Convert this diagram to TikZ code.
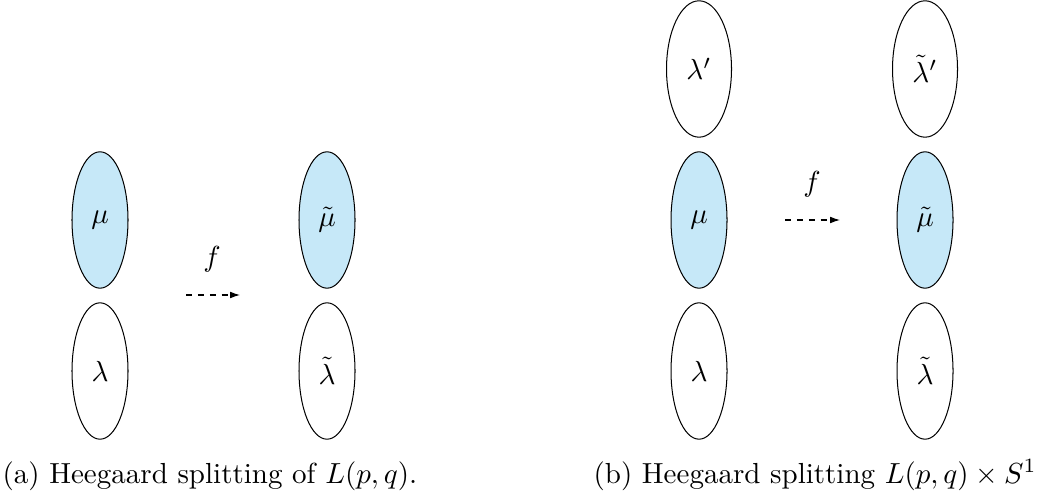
\documentclass[tikz,border=0pt]{standalone}
\usetikzlibrary{shapes.geometric,arrows.meta}
\definecolor{diskblue}{RGB}{198,232,248}
\tikzset{
  disk/.style={ellipse, draw=black, line width=0.35pt, inner sep=0pt, minimum width=19.3pt, minimum height=47pt},
  widedisk/.style={disk, minimum width=22.4pt},
  bluedisk/.style={disk, fill=diskblue},
  maparrow/.style={dash pattern=on 2.2pt off 1.9pt, line width=0.35pt, -{Latex[length=3.4pt,width=2.3pt]}},
  caption/.style={anchor=base west, inner sep=0pt}
}
\begin{document}
\begin{tikzpicture}[x=0.3446pt,y=-0.3446pt]
\useasboundingbox (0,0) rectangle (1038,495);
% panel (a)
\node[bluedisk] (amu) at (100,220) {$\mu$};
\node[disk] (alam) at (100,371) {$\lambda$};
\node[bluedisk] (amut) at (327,220) {$\tilde{\mu}$};
\node[disk] (alamt) at (327,371) {$\tilde{\lambda}$};
\coordinate (as) at (186,295);
\coordinate (ae) at (240,295);
\draw[maparrow] (as) -- (ae);
\node (af) at (212,259) {$f$};
\node[caption] (capa) at (2,483) {(a) Heegaard splitting of $L(p,q)$.};
% panel (b)
\node[widedisk] (blp) at (699,69) {$\lambda'$};
\node[bluedisk] (bmu) at (699,220) {$\mu$};
\node[disk] (blam) at (699,371) {$\lambda$};
\node[widedisk] (blpt) at (925,69) {$\tilde{\lambda}'$};
\node[bluedisk] (bmut) at (925,220) {$\tilde{\mu}$};
\node[disk] (blamt) at (925,371) {$\tilde{\lambda}$};
\coordinate (bs) at (785,220);
\coordinate (be) at (840,220);
\draw[maparrow] (bs) -- (be);
\node (bf) at (812,184) {$f$};
\node[caption] (capb) at (593,483) {(b) Heegaard splitting $L(p,q)\times S^1$};
\end{tikzpicture}
\end{document}
